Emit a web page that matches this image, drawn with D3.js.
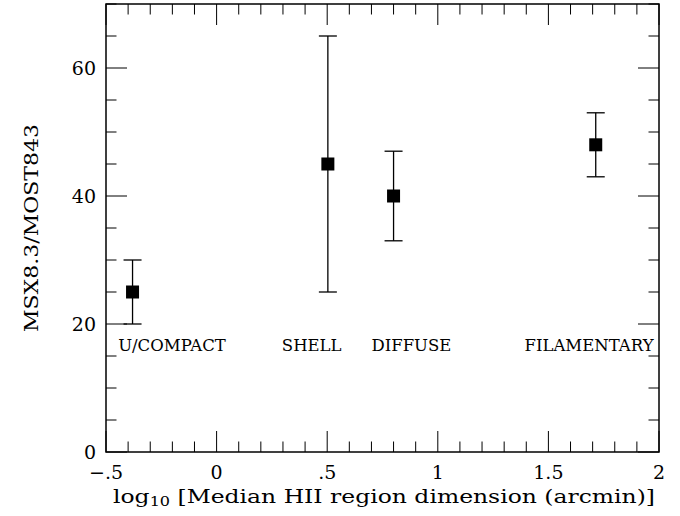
<!DOCTYPE html>
<html>
<head>
<meta charset="utf-8">
<script src="https://cdn.jsdelivr.net/npm/d3@7"></script>
<style>
  body { margin: 0; background: #fff; }
  svg text { font-family: "DejaVu Serif", "Liberation Serif", serif; fill: #000; }
</style>
</head>
<body>
<div id="chart"></div>
<script>
// data
const categories = ['U/COMPACT', 'SHELL', 'DIFFUSE', 'FILAMENTARY'];
const xValues = [-0.38, 0.503, 0.8, 1.714];
const yValues = [25, 45, 40, 48];
const yLow = [20, 25, 33, 43];
const yHigh = [30, 65, 47, 53];
// where each category name sits (data coordinates, start of text)
const labelX = [-0.445, 0.295, 0.70, 1.392];
const labelY = 15.8;

const xMajor = [-0.5, 0, 0.5, 1, 1.5, 2];
const xTickLabels = ['\u2212.5', '0', '.5', '1', '1.5', '2'];
const yMajor = [0, 20, 40, 60];
const yTickLabels = ['0', '20', '40', '60'];

const width = 680, height = 516;
const margin = {left: 106, right: 21, top: 4, bottom: 64};

const svg = d3.select('#chart').append('svg')
  .attr('width', width)
  .attr('height', height);

const x = d3.scaleLinear().domain([-0.5, 2]).range([margin.left, width - margin.right]);
const y = d3.scaleLinear().domain([0, 70]).range([height - margin.bottom, margin.top]);

const g = svg.append('g');

// ticks on all four sides
const xMinor = d3.range(-0.5, 2.0001, 0.1).map(v => Math.round(v * 10) / 10);
const yMinor = d3.range(0, 70.001, 5);
const isXMajor = v => Math.abs(v * 2 - Math.round(v * 2)) < 1e-6;
const isYMajor = v => v % 20 === 0;
const majorLen = 21, minorLen = 10.5;

g.selectAll('.xt-bottom').data(xMinor).enter().append('line')
  .attr('x1', d => x(d)).attr('x2', d => x(d))
  .attr('y1', y(0)).attr('y2', d => y(0) - (isXMajor(d) ? majorLen : minorLen))
  .attr('stroke', '#000').attr('stroke-width', 1);
g.selectAll('.xt-top').data(xMinor).enter().append('line')
  .attr('x1', d => x(d)).attr('x2', d => x(d))
  .attr('y1', y(70)).attr('y2', d => y(70) + (isXMajor(d) ? majorLen : minorLen))
  .attr('stroke', '#000').attr('stroke-width', 1);
g.selectAll('.yt-left').data(yMinor).enter().append('line')
  .attr('y1', d => y(d)).attr('y2', d => y(d))
  .attr('x1', x(-0.5)).attr('x2', d => x(-0.5) + (isYMajor(d) ? majorLen : minorLen))
  .attr('stroke', '#000').attr('stroke-width', 1);
g.selectAll('.yt-right').data(yMinor).enter().append('line')
  .attr('y1', d => y(d)).attr('y2', d => y(d))
  .attr('x1', x(2)).attr('x2', d => x(2) - (isYMajor(d) ? majorLen : minorLen))
  .attr('stroke', '#000').attr('stroke-width', 1);

// frame
g.append('rect')
  .attr('x', x(-0.5)).attr('y', y(70))
  .attr('width', x(2) - x(-0.5)).attr('height', y(0) - y(70))
  .attr('fill', 'none').attr('stroke', '#000').attr('stroke-width', 1.5);

// tick labels
g.selectAll('.xl').data(xMajor).enter().append('text')
  .attr('x', d => x(d)).attr('y', y(0) + 27)
  .attr('text-anchor', 'middle')
  .attr('font-size', 19)
  .text((d, i) => xTickLabels[i]);
g.selectAll('.yl').data(yMajor).enter().append('text')
  .attr('x', x(-0.5) - 10).attr('y', d => y(d) + 7)
  .attr('text-anchor', 'end')
  .attr('font-size', 19)
  .text((d, i) => yTickLabels[i]);

// axis titles
const xt = g.append('text')
  .attr('x', 384).attr('y', y(0) + 51)
  .attr('text-anchor', 'middle')
  .attr('font-size', 19)
  .attr('textLength', 542)
  .attr('lengthAdjust', 'spacingAndGlyphs');
xt.append('tspan').text('log');
xt.append('tspan').attr('font-size', 13).attr('dy', 3).text('10');
xt.append('tspan').attr('dy', -3).text(' [Median HII region dimension (arcmin)]');

g.append('text')
  .attr('transform', `translate(38,${(y(0) + y(70)) / 2}) rotate(-90)`)
  .attr('text-anchor', 'middle')
  .attr('font-size', 19)
  .attr('textLength', 208)
  .attr('lengthAdjust', 'spacingAndGlyphs')
  .text('MSX8.3/MOST843');

// error bars
const cap = 9;
const pts = categories.map((c, i) => ({c, x: xValues[i], y: yValues[i], lo: yLow[i], hi: yHigh[i]}));
const eb = g.selectAll('.eb').data(pts).enter().append('g');
eb.append('line')
  .attr('x1', d => x(d.x)).attr('x2', d => x(d.x))
  .attr('y1', d => y(d.lo)).attr('y2', d => y(d.hi))
  .attr('stroke', '#000').attr('stroke-width', 1.3);
eb.append('line')
  .attr('x1', d => x(d.x) - cap).attr('x2', d => x(d.x) + cap)
  .attr('y1', d => y(d.lo)).attr('y2', d => y(d.lo))
  .attr('stroke', '#000').attr('stroke-width', 1.3);
eb.append('line')
  .attr('x1', d => x(d.x) - cap).attr('x2', d => x(d.x) + cap)
  .attr('y1', d => y(d.hi)).attr('y2', d => y(d.hi))
  .attr('stroke', '#000').attr('stroke-width', 1.3);
const sq = 13;
eb.append('rect')
  .attr('x', d => x(d.x) - sq / 2).attr('y', d => y(d.y) - sq / 2)
  .attr('width', sq).attr('height', sq)
  .attr('fill', '#000');

// category names
g.selectAll('.cat').data(categories).enter().append('text')
  .attr('x', (d, i) => x(labelX[i])).attr('y', y(labelY))
  .attr('font-size', 16.5)
  .text(d => d);
</script>
</body>
</html>
